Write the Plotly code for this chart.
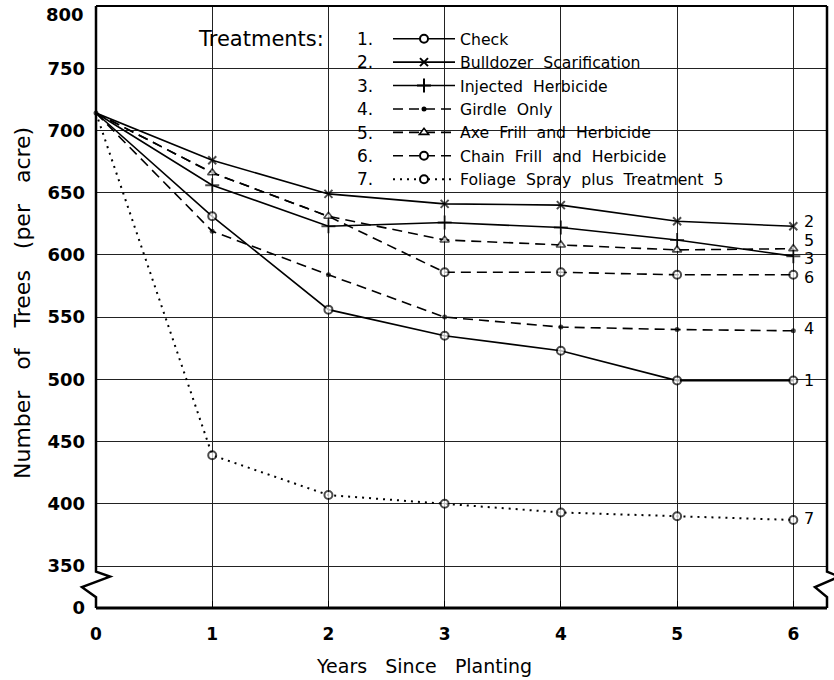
import plotly.graph_objects as go

# ---------------- data ----------------
years = [0, 1, 2, 3, 4, 5, 6]
check = [714, 631, 556, 535, 523, 499, 499]
bulldozer = [714, 676, 649, 641, 640, 627, 623]
injected = [714, 656, 623, 626, 622, 612, 599]
girdle = [714, 619, 584, 550, 542, 540, 539]
axe_frill = [714, 666, 631, 612, 608, 604, 605]
chain_frill = [714, 666, 631, 586, 586, 584, 584]
foliage = [714, 439, 407, 400, 393, 390, 387]

treatment_numbers = ["1", "2", "3", "4", "5", "6", "7"]
treatment_names = [
    "Check",
    "Bulldozer Scarification",
    "Injected Herbicide",
    "Girdle Only",
    "Axe Frill and Herbicide",
    "Chain Frill and Herbicide",
    "Foliage Spray plus Treatment 5",
]
legend_heading = "Treatments:"
x_title = "Years Since Planting"
y_title = "Number of Trees (per acre)"
x_tick_vals = [0, 1, 2, 3, 4, 5, 6]
x_tick_text = ["0", "1", "2", "3", "4", "5", "6"]
AXIS_BREAK_ZERO = 316.25   # position where the "0" of the broken axis sits
y_tick_vals = [AXIS_BREAK_ZERO, 350, 400, 450, 500, 550, 600, 650, 700, 750]
y_tick_text = ["0", "350", "400", "450", "500", "550", "600", "650", "700", "750"]
y_top_val = 800
y_top_text = "800"

# ---------------- style ----------------
FONT = "DejaVu Sans"
X_MAX = 6.29
W, H = 834, 680
ML, MR, MT, MB = 96, 7, 6, 72
PW, PH = W - ML - MR, H - MT - MB
NB = "\u00a0"


def spaced(s, n=1):
    return s.replace(" ", NB * n + " ")


series = [check, bulldozer, injected, girdle, axe_frill, chain_frill, foliage]
styles = [
    dict(dash="solid", width=1.6, symbol="circle", size=8, fill="white", lw=2),
    dict(dash="solid", width=1.6, symbol="x-thin-open", size=8, fill="black", lw=2),
    dict(dash="solid", width=1.6, symbol="cross-thin-open", size=10, fill="black", lw=2),
    dict(dash="10px,6px", width=1.6, symbol="circle", size=5, fill="black", lw=0),
    dict(dash="10px,6px", width=1.6, symbol="triangle-up", size=8, fill="white", lw=1.6),
    dict(dash="10px,6px", width=1.6, symbol="circle", size=8, fill="white", lw=2),
    dict(dash="2px,5px", width=2, symbol="circle", size=8, fill="white", lw=2),
]
# which points show a marker (the common start point is shown once)
hidden_points = [{0}, {0}, {0}, set(), {0}, {0, 1, 2}, {0}]
label_yshift = [0, 5, -2, 2, 8, -3, 1]

fig = go.Figure()

draw_order = [6, 0, 3, 5, 2, 4, 1]
for i in draw_order:
    st = styles[i]
    sizes = [0 if k in hidden_points[i] else st["size"] for k in range(len(years))]
    fig.add_trace(go.Scatter(
        x=years, y=series[i], mode="lines+markers", showlegend=False,
        line=dict(color="black", width=st["width"], dash=st["dash"]),
        marker=dict(symbol=st["symbol"], size=sizes, color=st["fill"],
                    line=dict(color="black", width=st["lw"])),
        cliponaxis=False,
    ))

# legend proxies
for i in range(7):
    st = styles[i]
    fig.add_trace(go.Scatter(
        x=[None], y=[None], mode="lines+markers", name=spaced(treatment_names[i]),
        line=dict(color="black", width=st["width"], dash=st["dash"]),
        marker=dict(symbol=st["symbol"], size=st["size"], color=st["fill"],
                    line=dict(color="black", width=st["lw"])),
    ))


def py(v):
    return (v - AXIS_BREAK_ZERO) / (y_top_val - AXIS_BREAK_ZERO)


def ppx(px):
    return px / PW


def pix_x(px):   # absolute page x pixel -> paper
    return (px - ML) / PW


def pix_y(px):   # absolute page y pixel -> paper
    return 1 - (px - MT) / PH


shapes = []
# white-out of gridlines below the break
shapes.append(dict(type="rect", xref="paper", yref="paper", x0=0.003, x1=0.997,
                   y0=0.004, y1=py(345), fillcolor="white", line=dict(width=0),
                   layer="between"))
# gridline white-outs behind the legend text
ROW0, ROWH = 39, 23.4
row_ends = [515, 656, 620, 556, 676, 686, 755]
for i, xe in enumerate(row_ends):
    yc = ROW0 + i * ROWH
    shapes.append(dict(type="rect", xref="paper", yref="paper",
                       x0=pix_x(345), x1=pix_x(xe), y0=pix_y(yc + ROWH / 2 + 0.5),
                       y1=pix_y(yc - ROWH / 2 - 0.5), fillcolor="white",
                       line=dict(width=0), layer="between"))
shapes.append(dict(type="rect", xref="paper", yref="paper",
                   x0=pix_x(190), x1=pix_x(335), y0=pix_y(56), y1=pix_y(23),
                   fillcolor="white", line=dict(width=0), layer="between"))
# frame
shapes.append(dict(type="line", xref="paper", yref="paper", x0=0, x1=1, y0=1, y1=1,
                   line=dict(color="black", width=2)))
shapes.append(dict(type="line", xref="paper", yref="paper", x0=0, x1=1, y0=0, y1=0,
                   line=dict(color="black", width=3)))


def zig(xp, amp):
    pts = [(xp, 1), (xp, py(345.5)),
           (xp + ppx(amp * 1.0), py(341.5)),
           (xp - ppx(amp * 1.0), py(333.0)),
           (xp, py(325.0)), (xp, 0)]
    return "M " + " L ".join(f"{a:.5f},{b:.5f}" for a, b in pts)


shapes.append(dict(type="path", xref="paper", yref="paper", path=zig(0, 14),
                   line=dict(color="black", width=2.5)))
shapes.append(dict(type="path", xref="paper", yref="paper", path=zig(1, 12),
                   line=dict(color="black", width=2.5)))

annotations = []
# top tick label
annotations.append(dict(x=0, y=y_top_val, xref="paper", yref="y", text=y_top_text,
                        showarrow=False, xanchor="right", yanchor="middle",
                        xshift=-10, yshift=-8,
                        font=dict(family=FONT, size=18, color="black", weight="bold")))
# series labels on right
for i in range(7):
    annotations.append(dict(x=years[-1], y=series[i][-1], xref="x", yref="y",
                            text=treatment_numbers[i], showarrow=False,
                            xanchor="center", yanchor="middle", xshift=16,
                            yshift=label_yshift[i],
                            font=dict(family=FONT, size=16, color="black")))
# legend heading and numbers
annotations.append(dict(x=pix_x(196), y=pix_y(39), xref="paper", yref="paper",
                        text=legend_heading, showarrow=False, xanchor="left",
                        yanchor="middle", font=dict(family=FONT, size=21, color="black")))
for i in range(7):
    annotations.append(dict(x=pix_x(375), y=pix_y(ROW0 + i * ROWH),
                            xref="paper", yref="paper", text=treatment_numbers[i] + ".",
                            showarrow=False, xanchor="right", yanchor="middle",
                            font=dict(family=FONT, size=17, color="black")))
# x axis title
annotations.append(dict(x=pix_x(424), y=pix_y(666), xref="paper", yref="paper",
                        text=spaced(x_title, 2), showarrow=False, xanchor="center",
                        yanchor="middle", font=dict(family=FONT, size=19, color="black")))
# y axis title
annotations.append(dict(x=pix_x(22), y=pix_y(303), xref="paper", yref="paper",
                        text=spaced(y_title, 2), showarrow=False, xanchor="center",
                        yanchor="middle", textangle=-90,
                        font=dict(family=FONT, size=22, color="black")))

fig.update_layout(
    width=W, height=H,
    margin=dict(l=ML, r=MR, t=MT, b=MB),
    paper_bgcolor="white", plot_bgcolor="white",
    font=dict(family=FONT, color="black"),
    showlegend=True,
    legend=dict(x=pix_x(388), y=pix_y(22), xanchor="left", yanchor="top",
                bgcolor="rgba(0,0,0,0)", borderwidth=0, itemwidth=62,
                font=dict(family=FONT, size=15.7, color="black"),
                tracegroupgap=0, itemclick=False, itemdoubleclick=False),
    shapes=shapes,
    annotations=annotations,
    xaxis=dict(range=[0, X_MAX], tickvals=x_tick_vals, ticktext=x_tick_text,
               showgrid=True, gridcolor="#222", gridwidth=1, zeroline=False,
               showline=False, ticks="inside", ticklen=7, tickcolor="black",
               tickwidth=1, ticklabelstandoff=14,
               tickfont=dict(family=FONT, size=17, color="black", weight="bold"),
               automargin=False, fixedrange=True),
    yaxis=dict(range=[AXIS_BREAK_ZERO, y_top_val], tickvals=y_tick_vals, ticktext=y_tick_text,
               showgrid=True, gridcolor="#222", gridwidth=1, zeroline=False,
               showline=False, ticks="", ticklabelstandoff=10,
               tickfont=dict(family=FONT, size=18, color="black", weight="bold"),
               automargin=False, fixedrange=True),
)

fig.write_html("out.html", config={"displayModeBar": False},
               post_script="document.body.style.margin='0px';")
